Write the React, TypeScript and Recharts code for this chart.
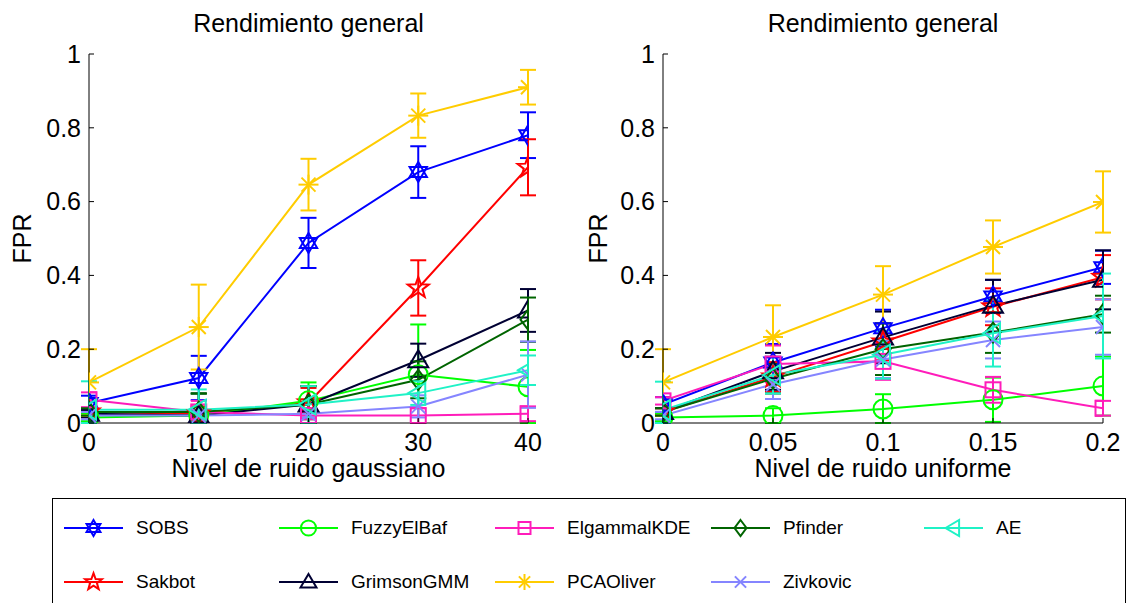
import React from 'react';
import { ErrorBar, Line, LineChart, XAxis, YAxis } from 'recharts';

const gaussLevels = [0, 10, 20, 30, 40];
const uniformLevels = [0, 0.05, 0.1, 0.15, 0.2];
const fprTicks = [0, 0.2, 0.4, 0.6, 0.8, 1];

// FPR vs gaussian noise level
const sobsGauss = [0.054, 0.122, 0.488, 0.68, 0.78];
const sakbotGauss = [0.03, 0.025, 0.055, 0.366, 0.693];
const fuzzyGauss = [0.015, 0.02, 0.06, 0.131, 0.098];
const grimsonGauss = [0.025, 0.02, 0.05, 0.17, 0.305];
const elgammalGauss = [0.063, 0.03, 0.02, 0.02, 0.025];
const pcaGauss = [0.11, 0.26, 0.646, 0.833, 0.91];
const pfinderGauss = [0.03, 0.03, 0.05, 0.117, 0.28];
const zivkovicGauss = [0.02, 0.02, 0.025, 0.045, 0.131];
const aeGauss = [0.036, 0.036, 0.05, 0.081, 0.143];

const sobsGaussErr = [0.02, 0.06, 0.068, 0.07, 0.062];
const sakbotGaussErr = [0.01, 0.02, 0.04, 0.075, 0.076];
const fuzzyGaussErr = [0.01, 0.06, 0.05, 0.136, 0.1];
const grimsonGaussErr = [0.01, 0.06, 0.05, 0.045, 0.058];
const elgammalGaussErr = [0.02, 0.03, 0.01, 0.02, 0.02];
const pcaGaussErr = [0.09, 0.115, 0.07, 0.06, 0.047];
const pfinderGaussErr = [0.01, 0.05, 0.05, 0.05, 0.06];
const zivkovicGaussErr = [0.01, 0.01, 0.01, 0.03, 0.09];
const aeGaussErr = [0.077, 0.055, 0.05, 0.032, 0.04];

// FPR vs uniform noise level
const sobsUnif = [0.05, 0.164, 0.257, 0.343, 0.422];
const sakbotUnif = [0.03, 0.125, 0.22, 0.315, 0.395];
const fuzzyUnif = [0.015, 0.02, 0.038, 0.063, 0.1];
const grimsonUnif = [0.03, 0.14, 0.232, 0.318, 0.388];
const elgammalUnif = [0.06, 0.16, 0.167, 0.09, 0.04];
const pcaUnif = [0.11, 0.233, 0.348, 0.477, 0.599];
const pfinderUnif = [0.03, 0.12, 0.2, 0.245, 0.295];
const zivkovicUnif = [0.02, 0.105, 0.172, 0.225, 0.26];
const aeUnif = [0.035, 0.13, 0.185, 0.243, 0.29];

const sobsUnifErr = [0.02, 0.05, 0.05, 0.045, 0.045];
const sakbotUnifErr = [0.01, 0.04, 0.05, 0.05, 0.06];
const fuzzyUnifErr = [0.01, 0.02, 0.04, 0.06, 0.08];
const grimsonUnifErr = [0.01, 0.05, 0.07, 0.07, 0.08];
const elgammalUnifErr = [0.01, 0.05, 0.05, 0.035, 0.02];
const pcaUnifErr = [0.09, 0.086, 0.077, 0.072, 0.083];
const pfinderUnifErr = [0.01, 0.04, 0.07, 0.055, 0.05];
const zivkovicUnifErr = [0.01, 0.04, 0.05, 0.05, 0.075];
const aeUnifErr = [0.077, 0.05, 0.065, 0.09, 0.115];

const seriesNames = ['SOBS', 'Sakbot', 'FuzzyElBaf', 'GrimsonGMM', 'ElgammalKDE', 'PCAOliver', 'Pfinder', 'Zivkovic', 'AE'];

const gaussValues = [sobsGauss, sakbotGauss, fuzzyGauss, grimsonGauss, elgammalGauss, pcaGauss, pfinderGauss, zivkovicGauss, aeGauss];
const gaussErrors = [sobsGaussErr, sakbotGaussErr, fuzzyGaussErr, grimsonGaussErr, elgammalGaussErr, pcaGaussErr, pfinderGaussErr, zivkovicGaussErr, aeGaussErr];
const unifValues = [sobsUnif, sakbotUnif, fuzzyUnif, grimsonUnif, elgammalUnif, pcaUnif, pfinderUnif, zivkovicUnif, aeUnif];
const unifErrors = [sobsUnifErr, sakbotUnifErr, fuzzyUnifErr, grimsonUnifErr, elgammalUnifErr, pcaUnifErr, pfinderUnifErr, zivkovicUnifErr, aeUnifErr];

const styles: Record<string, { color: string; marker: string }> = {
  SOBS: { color: '#0000ff', marker: 'hexagram' },
  Sakbot: { color: '#ff0000', marker: 'pentagram' },
  FuzzyElBaf: { color: '#00ff00', marker: 'circle' },
  GrimsonGMM: { color: '#000033', marker: 'triangleUp' },
  ElgammalKDE: { color: '#ff1cba', marker: 'square' },
  PCAOliver: { color: '#ffcc00', marker: 'asterisk' },
  Pfinder: { color: '#006400', marker: 'diamond' },
  Zivkovic: { color: '#8585ff', marker: 'x' },
  AE: { color: '#1ff2c6', marker: 'triangleLeft' },
};

function buildRows(levels: number[], values: number[][], errors: number[][]) {
  return levels.map((x, i) => {
    const row: Record<string, any> = { x };
    seriesNames.forEach((name, s) => {
      const v = values[s][i];
      const e = errors[s][i];
      row[name] = v;
      // the axes clip at FPR = 0, so the lower whisker stops there
      row[name + '_err'] = [Math.min(e, v), e];
    });
    return row;
  });
}

const gaussRows = buildRows(gaussLevels, gaussValues, gaussErrors);
const unifRows = buildRows(uniformLevels, unifValues, unifErrors);

function polyPoints(cx: number, cy: number, r: number, angles: number[], radii?: number[]) {
  return angles
    .map((a, i) => {
      const rr = radii ? radii[i] : r;
      const t = (a * Math.PI) / 180;
      return `${cx + rr * Math.cos(t)},${cy + rr * Math.sin(t)}`;
    })
    .join(' ');
}

function Marker({ kind, cx, cy, r, color }: { kind: string; cx: number; cy: number; r: number; color: string }) {
  const common = { fill: 'none', stroke: color, strokeWidth: 2 };
  switch (kind) {
    case 'circle':
      return <circle cx={cx} cy={cy} r={r * 0.95} {...common} />;
    case 'square':
      return <rect x={cx - r * 0.75} y={cy - r * 0.75} width={r * 1.5} height={r * 1.5} {...common} />;
    case 'diamond':
      return <polygon points={`${cx},${cy - r} ${cx + r * 0.75},${cy} ${cx},${cy + r} ${cx - r * 0.75},${cy}`} {...common} />;
    case 'triangleUp':
      return <polygon points={`${cx},${cy - r} ${cx + r},${cy + r * 0.7} ${cx - r},${cy + r * 0.7}`} {...common} />;
    case 'triangleLeft':
      return <polygon points={`${cx - r},${cy} ${cx + r * 0.7},${cy - r} ${cx + r * 0.7},${cy + r}`} {...common} />;
    case 'hexagram':
      return (
        <g {...common}>
          <polygon points={polyPoints(cx, cy, r, [-90, 30, 150])} />
          <polygon points={polyPoints(cx, cy, r, [90, 210, 330])} />
        </g>
      );
    case 'pentagram': {
      const angles = Array.from({ length: 10 }, (_, i) => -90 + i * 36);
      const radii = angles.map((_, i) => (i % 2 === 0 ? r * 1.1 : r * 0.45));
      return <polygon points={polyPoints(cx, cy, r, angles, radii)} {...common} />;
    }
    case 'asterisk':
      return (
        <g {...common}>
          <line x1={cx - r} y1={cy} x2={cx + r} y2={cy} />
          <line x1={cx} y1={cy - r} x2={cx} y2={cy + r} />
          <line x1={cx - r * 0.7} y1={cy - r * 0.7} x2={cx + r * 0.7} y2={cy + r * 0.7} />
          <line x1={cx - r * 0.7} y1={cy + r * 0.7} x2={cx + r * 0.7} y2={cy - r * 0.7} />
        </g>
      );
    case 'x':
    default:
      return (
        <g {...common}>
          <line x1={cx - r * 0.7} y1={cy - r * 0.7} x2={cx + r * 0.7} y2={cy + r * 0.7} />
          <line x1={cx - r * 0.7} y1={cy + r * 0.7} x2={cx + r * 0.7} y2={cy - r * 0.7} />
        </g>
      );
  }
}

const axisFont = { fontSize: 25, fill: '#000' };

function Panel({
  rows,
  levels,
  xLabel,
  left,
  width,
  yAxisWidth,
  yLabelOffset,
  rightMargin,
}: {
  rows: Record<string, any>[];
  levels: number[];
  xLabel: string;
  left: number;
  width: number;
  yAxisWidth: number;
  yLabelOffset: number;
  rightMargin: number;
}) {
  return (
    <div style={{ position: 'absolute', left, top: 0 }}>
      <LineChart width={width} height={500} data={rows} margin={{ top: 54, right: rightMargin, left: 0, bottom: 17 }}>
        <XAxis
          type="number"
          dataKey="x"
          domain={[levels[0], levels[levels.length - 1]]}
          allowDataOverflow
          ticks={levels}
          tickFormatter={(v) => String(v)}
          height={60}
          tick={axisFont}
          tickSize={-5}
          tickMargin={15}
          stroke="#000"
          label={{ value: xLabel, position: 'insideBottom', offset: 6, style: { fontSize: 25, fill: '#000' } }}
        />
        <YAxis
          type="number"
          domain={[0, 1]}
          allowDataOverflow
          ticks={fprTicks}
          tickFormatter={(v) => String(v)}
          width={yAxisWidth}
          tick={axisFont}
          tickSize={-5}
          tickMargin={13}
          stroke="#000"
          label={{
            value: 'FPR',
            angle: -90,
            position: 'insideLeft',
            offset: yLabelOffset,
            style: { fontSize: 25, fill: '#000', textAnchor: 'middle' },
          }}
        />
        {seriesNames.map((name) => {
          const st = styles[name];
          return (
            <Line
              key={name}
              dataKey={name}
              type="linear"
              stroke={st.color}
              strokeWidth={2}
              isAnimationActive={false}
              activeDot={false}
              dot={(p: any) => (
                <Marker key={`${name}-${p.index}`} kind={st.marker} cx={p.cx} cy={p.cy} r={10} color={st.color} />
              )}
            >
              <ErrorBar dataKey={name + '_err'} width={8} strokeWidth={2} stroke={st.color} direction="y" />
            </Line>
          );
        })}
      </LineChart>
    </div>
  );
}

const legendColumns = [64, 279, 495, 711, 924];
const legendRows = [528, 582];

function Legend() {
  return (
    <>
      <div
        style={{
          position: 'absolute',
          left: 52,
          top: 498,
          width: 1074,
          height: 130,
          border: '1px solid #000',
          boxSizing: 'border-box',
        }}
      />
      {seriesNames.map((name, i) => {
        const col = Math.floor(i / 2);
        const row = i % 2;
        const st = styles[name];
        const x = legendColumns[col];
        const y = legendRows[row];
        return (
          <div key={name} style={{ position: 'absolute', left: x, top: y - 14, height: 28 }}>
            <svg width={60} height={28} style={{ position: 'absolute', left: 0, top: 0 }}>
              <line x1={0} y1={14} x2={59} y2={14} stroke={st.color} strokeWidth={2} />
              <Marker kind={st.marker} cx={29.5} cy={14} r={8} color={st.color} />
            </svg>
            <span
              style={{
                position: 'absolute',
                left: 72,
                top: 2,
                fontSize: 19,
                lineHeight: '24px',
                whiteSpace: 'nowrap',
                color: '#000',
              }}
            >
              {name}
            </span>
          </div>
        );
      })}
    </>
  );
}

export default function App() {
  return (
    <div
      style={{
        position: 'absolute',
        left: 0,
        top: 0,
        width: 1130,
        height: 603,
        overflow: 'hidden',
        background: '#fff',
        fontFamily: '"Liberation Sans", Arial, sans-serif',
      }}
    >
      <div style={{ position: 'absolute', left: 89, width: 439, top: 8, textAlign: 'center', fontSize: 25, lineHeight: '30px' }}>
        Rendimiento general
      </div>
      <div style={{ position: 'absolute', left: 663, width: 440, top: 8, textAlign: 'center', fontSize: 25, lineHeight: '30px' }}>
        Rendimiento general
      </div>
      <Panel
        rows={gaussRows}
        levels={gaussLevels}
        xLabel="Nivel de ruido gaussiano"
        left={0}
        width={560}
        yAxisWidth={89}
        yLabelOffset={22}
        rightMargin={32}
      />
      <Panel
        rows={unifRows}
        levels={uniformLevels}
        xLabel="Nivel de ruido uniforme"
        left={560}
        width={570}
        yAxisWidth={103}
        yLabelOffset={38}
        rightMargin={27}
      />
      <Legend />
    </div>
  );
}
